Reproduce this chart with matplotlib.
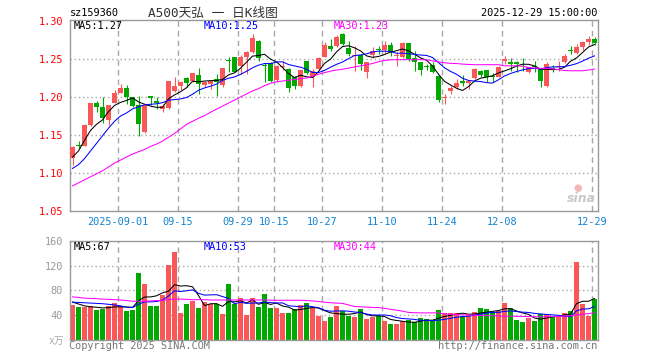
import numpy as np
import matplotlib
matplotlib.use('Agg')
import matplotlib.pyplot as plt

plt.rcParams['font.family'] = ['DejaVu Sans Mono', 'Noto Sans CJK SC']

# daily K line, 2025-08-20 .. 2025-12-29
opens = [1.1193, 1.1370, 1.1356, 1.1633, 1.1915, 1.1862, 1.1695, 1.1915, 1.2051, 1.2113,
         1.1994, 1.1897, 1.1540, 1.2016, 1.1950, 1.1840, 1.1853, 1.2073, 1.2148, 1.2245,
         1.2205, 1.2289, 1.2161, 1.2170, 1.2236, 1.2161, 1.2478, 1.2522, 1.2412, 1.2522,
         1.2588, 1.2733, 1.2416, 1.2443, 1.2223, 1.2395, 1.2368, 1.2267, 1.2148, 1.2469,
         1.2267, 1.2368, 1.2531, 1.2667, 1.2676, 1.2830, 1.2641, 1.2544, 1.2557, 1.2333,
         1.2557, 1.2623, 1.2623, 1.2689, 1.2540, 1.2522, 1.2707, 1.2513, 1.2456, 1.2401,
         1.2421, 1.2280, 1.1990, 1.2082, 1.2135, 1.2214, 1.2179, 1.2249, 1.2337, 1.2355,
         1.2271, 1.2267, 1.2469, 1.2456, 1.2456, 1.2395, 1.2324, 1.2401, 1.2368, 1.2148,
         1.2372, 1.2395, 1.2456, 1.2612, 1.2575, 1.2654, 1.2720, 1.2764]
highs = [1.1350, 1.1422, 1.1640, 1.1915, 1.1941, 1.1994, 1.1900, 1.2095, 1.2170, 1.2161,
         1.2003, 1.2016, 1.1900, 1.2016, 1.2000, 1.1906, 1.2205, 1.2267, 1.2214, 1.2258,
         1.2311, 1.2381, 1.2214, 1.2223, 1.2302, 1.2377, 1.2522, 1.2531, 1.2557, 1.2601,
         1.2830, 1.2751, 1.2443, 1.2456, 1.2425, 1.2478, 1.2381, 1.2280, 1.2355, 1.2478,
         1.2368, 1.2531, 1.2720, 1.2764, 1.2820, 1.2839, 1.2742, 1.2676, 1.2566, 1.2456,
         1.2663, 1.2676, 1.2742, 1.2720, 1.2597, 1.2720, 1.2707, 1.2610, 1.2456, 1.2434,
         1.2456, 1.2280, 1.2038, 1.2148, 1.2236, 1.2289, 1.2214, 1.2381, 1.2355, 1.2355,
         1.2311, 1.2412, 1.2544, 1.2513, 1.2478, 1.2513, 1.2399, 1.2478, 1.2368, 1.2456,
         1.2425, 1.2478, 1.2566, 1.2676, 1.2698, 1.2742, 1.2808, 1.2795]
lows = [1.1105, 1.1325, 1.1350, 1.1620, 1.1796, 1.1664, 1.1629, 1.1915, 1.2051, 1.1906,
        1.1862, 1.1488, 1.1530, 1.1900, 1.1840, 1.1809, 1.1840, 1.2060, 1.2090, 1.2135,
        1.2192, 1.2038, 1.2128, 1.2104, 1.2016, 1.2128, 1.2324, 1.2324, 1.2302, 1.2302,
        1.2575, 1.2478, 1.2192, 1.2192, 1.2192, 1.2355, 1.2060, 1.2104, 1.2135, 1.2302,
        1.2135, 1.2355, 1.2522, 1.2610, 1.2663, 1.2689, 1.2544, 1.2346, 1.2355, 1.2249,
        1.2513, 1.2566, 1.2575, 1.2544, 1.2412, 1.2513, 1.2478, 1.2346, 1.2293, 1.2359,
        1.2311, 1.1928, 1.1906, 1.2038, 1.2104, 1.2149, 1.2104, 1.2236, 1.2258, 1.2192,
        1.2192, 1.2258, 1.2434, 1.2346, 1.2324, 1.2337, 1.2311, 1.2324, 1.2126, 1.2135,
        1.2324, 1.2346, 1.2443, 1.2566, 1.2566, 1.2623, 1.2689, 1.2689]
closes = [1.1347, 1.1360, 1.1638, 1.1915, 1.1862, 1.1721, 1.1897, 1.2051, 1.2113, 1.1994,
          1.1880, 1.1642, 1.1897, 1.1985, 1.1915, 1.1884, 1.2205, 1.2148, 1.2192, 1.2179,
          1.2311, 1.2170, 1.2200, 1.2214, 1.2192, 1.2377, 1.2473, 1.2333, 1.2522, 1.2588,
          1.2773, 1.2513, 1.2412, 1.2205, 1.2412, 1.2399, 1.2117, 1.2148, 1.2355, 1.2311,
          1.2346, 1.2513, 1.2689, 1.2632, 1.2786, 1.2698, 1.2566, 1.2553, 1.2434, 1.2456,
          1.2601, 1.2619, 1.2685, 1.2588, 1.2553, 1.2711, 1.2500, 1.2456, 1.2355, 1.2399,
          1.2324, 1.1959, 1.1994, 1.2117, 1.2179, 1.2179, 1.2214, 1.2368, 1.2293, 1.2258,
          1.2267, 1.2399, 1.2500, 1.2434, 1.2434, 1.2390, 1.2390, 1.2395, 1.2214, 1.2434,
          1.2368, 1.2399, 1.2544, 1.2606, 1.2654, 1.2720, 1.2764, 1.2707]

ma5 = [1.1210, 1.1290, 1.1430, 1.1560, 1.1640, 1.1699, 1.1807, 1.1889, 1.1929, 1.1955,
       1.1987, 1.1936, 1.1905, 1.1880, 1.1864, 1.1865, 1.1977, 1.2027, 1.2069, 1.2122,
       1.2207, 1.2200, 1.2210, 1.2215, 1.2217, 1.2231, 1.2291, 1.2318, 1.2379, 1.2459,
       1.2538, 1.2546, 1.2562, 1.2498, 1.2463, 1.2388, 1.2309, 1.2256, 1.2286, 1.2266,
       1.2255, 1.2335, 1.2443, 1.2498, 1.2593, 1.2664, 1.2674, 1.2647, 1.2607, 1.2541,
       1.2522, 1.2533, 1.2559, 1.2590, 1.2609, 1.2631, 1.2607, 1.2562, 1.2515, 1.2484,
       1.2407, 1.2299, 1.2206, 1.2159, 1.2115, 1.2086, 1.2137, 1.2211, 1.2247, 1.2262,
       1.2280, 1.2317, 1.2343, 1.2372, 1.2407, 1.2431, 1.2430, 1.2409, 1.2365, 1.2365,
       1.2360, 1.2362, 1.2392, 1.2470, 1.2514, 1.2585, 1.2658, 1.2690]
ma10 = [1.1060, 1.1110, 1.1190, 1.1290, 1.1390, 1.1490, 1.1590, 1.1680, 1.1750, 1.1790,
        1.1843, 1.1871, 1.1897, 1.1904, 1.1910, 1.1926, 1.1957, 1.1966, 1.1974, 1.1993,
        1.2036, 1.2089, 1.2119, 1.2142, 1.2170, 1.2219, 1.2246, 1.2264, 1.2297, 1.2338,
        1.2384, 1.2419, 1.2440, 1.2439, 1.2461, 1.2463, 1.2427, 1.2409, 1.2392, 1.2365,
        1.2322, 1.2322, 1.2350, 1.2392, 1.2430, 1.2460, 1.2504, 1.2545, 1.2553, 1.2567,
        1.2593, 1.2603, 1.2603, 1.2599, 1.2575, 1.2577, 1.2570, 1.2560, 1.2552, 1.2547,
        1.2519, 1.2453, 1.2384, 1.2337, 1.2299, 1.2246, 1.2218, 1.2209, 1.2203, 1.2189,
        1.2183, 1.2227, 1.2277, 1.2309, 1.2335, 1.2356, 1.2373, 1.2376, 1.2368, 1.2386,
        1.2396, 1.2396, 1.2400, 1.2417, 1.2439, 1.2472, 1.2510, 1.2541]
ma30 = [1.0830, 1.0870, 1.0910, 1.0950, 1.0990, 1.1030, 1.1080, 1.1130, 1.1170, 1.1210,
        1.1250, 1.1280, 1.1310, 1.1350, 1.1380, 1.1420, 1.1470, 1.1520, 1.1580, 1.1640,
        1.1680, 1.1720, 1.1755, 1.1800, 1.1840, 1.1880, 1.1920, 1.1960, 1.2000, 1.2040,
        1.2080, 1.2110, 1.2150, 1.2180, 1.2200, 1.2210, 1.2220, 1.2230, 1.2240, 1.2250,
        1.2270, 1.2300, 1.2320, 1.2340, 1.2355, 1.2365, 1.2380, 1.2395, 1.2410, 1.2425,
        1.2440, 1.2465, 1.2480, 1.2490, 1.2490, 1.2491, 1.2491, 1.2491, 1.2491, 1.2490,
        1.2475, 1.2462, 1.2450, 1.2443, 1.2440, 1.2433, 1.2428, 1.2425, 1.2425, 1.2425,
        1.2425, 1.2425, 1.2410, 1.2410, 1.2410, 1.2405, 1.2390, 1.2380, 1.2377, 1.2377,
        1.2370, 1.2360, 1.2348, 1.2345, 1.2345, 1.2345, 1.2355, 1.2368]

# volume, 万手
vols = [56.0, 52.8, 52.8, 54.4, 48.0, 50.7, 54.4, 59.7, 54.4, 46.4,
        48.0, 107.7, 90.1, 55.0, 55.0, 72.0, 121.6, 142.4, 43.7, 57.6,
        63.0, 51.7, 61.0, 58.7, 58.7, 41.6, 89.6, 58.7, 67.7, 40.0,
        67.7, 53.3, 73.6, 51.7, 51.7, 43.7, 43.7, 50.7, 56.0, 59.7,
        51.7, 38.9, 30.9, 37.3, 54.4, 46.4, 38.4, 36.8, 49.6, 33.6,
        36.8, 38.4, 30.9, 25.6, 25.6, 30.4, 32.0, 28.8, 34.7, 33.6,
        30.4, 48.0, 43.2, 43.2, 43.2, 38.4, 40.0, 44.8, 51.2, 49.6,
        44.8, 46.9, 59.2, 51.2, 32.0, 28.8, 35.2, 30.4, 41.6, 41.6,
        38.4, 38.4, 43.2, 46.4, 126.4, 57.6, 38.4, 65.6]
vma5 = [61.0, 58.0, 55.0, 53.5, 52.8, 51.7, 52.1, 53.4, 53.4, 53.1,
        52.6, 63.2, 69.3, 69.4, 71.2, 76.0, 78.7, 89.2, 86.9, 87.5,
        85.7, 71.7, 55.4, 58.4, 58.6, 54.3, 61.9, 61.5, 63.3, 59.5,
        64.7, 57.5, 60.5, 57.3, 59.6, 54.8, 52.9, 48.3, 49.2, 50.8,
        52.4, 51.4, 47.4, 43.7, 42.6, 41.6, 41.5, 42.7, 45.1, 41.0,
        39.0, 39.0, 37.9, 33.1, 31.5, 30.2, 28.9, 28.5, 30.3, 31.9,
        31.9, 35.1, 38.0, 39.7, 41.6, 43.2, 41.6, 41.9, 43.5, 44.8,
        46.1, 47.5, 50.3, 50.3, 46.8, 43.6, 41.3, 35.5, 33.6, 35.5,
        37.4, 38.1, 40.6, 41.6, 58.6, 62.4, 62.4, 66.9]
vma10 = [61.0, 60.5, 60.0, 59.5, 59.0, 58.5, 57.5, 56.5, 55.0, 53.0,
         52.2, 57.7, 61.4, 61.4, 62.1, 64.3, 71.0, 79.3, 78.2, 79.3,
         80.8, 75.2, 72.3, 72.7, 73.0, 70.0, 66.8, 58.4, 60.8, 59.1,
         59.5, 59.7, 61.0, 60.3, 59.6, 59.8, 55.2, 54.4, 53.2, 55.2,
         53.6, 52.1, 47.9, 46.4, 46.7, 47.0, 46.4, 45.1, 44.4, 41.8,
         40.3, 40.3, 40.3, 39.1, 36.2, 34.6, 34.0, 33.2, 31.7, 31.7,
         31.0, 32.0, 33.2, 35.0, 36.8, 37.6, 38.4, 40.0, 41.6, 43.2,
         44.6, 44.5, 46.1, 46.9, 45.8, 44.9, 44.4, 42.9, 42.0, 41.2,
         40.5, 39.7, 38.1, 37.6, 47.0, 49.9, 50.2, 53.8]
vma30 = [69.5, 68.5, 67.5, 67.0, 66.5, 66.0, 65.5, 65.0, 64.5, 63.5,
         62.5, 62.5, 62.5, 63.0, 63.5, 64.0, 65.0, 66.0, 66.0, 65.5,
         65.0, 65.0, 65.0, 64.5, 64.5, 64.5, 64.5, 64.5, 64.5, 64.5,
         64.5, 64.5, 64.5, 64.0, 64.0, 64.0, 64.0, 64.0, 64.0, 63.5,
         63.0, 62.0, 61.0, 60.0, 59.5, 59.0, 56.5, 54.0, 53.5, 53.0,
         52.5, 52.3, 51.0, 49.5, 48.0, 46.5, 44.5, 44.0, 43.7, 43.7,
         43.7, 43.7, 42.0, 41.5, 41.0, 40.5, 40.3, 40.0, 39.5, 39.2,
         39.0, 38.7, 38.4, 38.4, 38.2, 38.0, 37.8, 37.4, 37.3, 37.5,
         37.8, 38.0, 38.4, 39.0, 40.5, 41.5, 42.5, 44.0]

tick_idx = [8, 18, 28, 34, 42, 52, 62, 72, 87]
tick_lbl = ['2025-09-01', '09-15', '09-29', '10-15', '10-27', '11-10', '11-24', '12-08', '12-29']
price_ticks = [1.05, 1.10, 1.15, 1.20, 1.25, 1.30]
vol_ticks = [40, 80, 120, 160]

RED = '#fa5858'
GRN = '#00a800'
GRID = '#a8a8a8'
W, H = 660, 360

o = np.array(opens); c = np.array(closes)
x = np.arange(len(c))
up = c >= o
col = np.where(up, RED, GRN)

fig = plt.figure(figsize=(6.6, 3.6), dpi=100)
fig.patch.set_facecolor('white')

def fx(px):
    return px / W

def fy(py):
    return 1 - py / H

ax = fig.add_axes([fx(70), fy(211), fx(528), 191 / H])
vax = fig.add_axes([fx(70), fy(340), fx(528), 99.3 / H])

grid_x = [i - 0.42 for i in tick_idx]
for a in (ax, vax):
    for g in grid_x:
        a.axvline(g, color=GRID, lw=1, ls=(0, (4, 3)), zorder=0)
    for s in a.spines.values():
        s.set_color('#999999')
        s.set_linewidth(1)
    a.set_xlim(-0.42, len(c) - 0.42)
    a.tick_params(length=0)

for yv in price_ticks[1:-1]:
    ax.axhline(yv, color=GRID, lw=1, ls=(0, (1, 2)), zorder=0)
for yv in vol_ticks[:-1]:
    vax.axhline(yv, color=GRID, lw=1, ls=(0, (1, 2)), zorder=0)

# candles
ax.vlines(x, lows, highs, colors=col, lw=0.8, zorder=2)
body = np.maximum(np.abs(c - o), 0.0008)
ax.bar(x, body, bottom=np.minimum(o, c), width=0.8, color=col, lw=0, zorder=3,
       antialiased=False)
ax.plot(x, ma5, color='black', lw=0.75, zorder=4)
ax.plot(x, ma10, color='#0000ff', lw=0.75, zorder=4)
ax.plot(x, ma30, color='#ff00ff', lw=0.75, zorder=4)
ax.set_ylim(1.05, 1.3013)
ax.set_yticks(price_ticks)
ax.set_yticklabels(['%.2f' % t for t in price_ticks], color='#ff0000', fontsize=7.4)
ax.set_xticks(grid_x)
ax.set_xticklabels(tick_lbl, color='#1284d2', fontsize=7.4)
ax.tick_params(axis='y', pad=5)
ax.tick_params(axis='x', pad=4)

# volume
vax.bar(x, vols, width=0.8, color=col, lw=0, zorder=2, antialiased=False)
vax.plot(x, vma5, color='black', lw=0.75, zorder=4)
vax.plot(x, vma10, color='#0000ff', lw=0.75, zorder=4)
vax.plot(x, vma30, color='#ff00ff', lw=0.75, zorder=4)
vax.set_ylim(0, 160)
vax.set_yticks(vol_ticks)
vax.set_yticklabels([str(t) for t in vol_ticks], color='#999999', fontsize=7.4)
vax.tick_params(axis='y', pad=5)
vax.set_xticks([])

# texts
fs = 7.4
fig.text(fx(70), fy(13), 'sz159360', fontsize=fs, color='black', va='center')
fig.text(fx(213), fy(13), 'A500天弘 一 日K线图', fontsize=9.2, color='#333333',
         ha='center', va='center')
fig.text(fx(597), fy(13), '2025-12-29 15:00:00', fontsize=fs, color='black',
         ha='right', va='center')
fig.text(fx(74), fy(26), 'MA5:%.2f' % 1.27, fontsize=fs, color='black', va='center')
fig.text(fx(204), fy(26), 'MA10:%.2f' % 1.25, fontsize=fs, color='#0000ff', va='center')
fig.text(fx(334), fy(26), 'MA30:%.2f' % 1.23, fontsize=fs, color='#ff00ff', va='center')
fig.text(fx(74), fy(247), 'MA5:67', fontsize=fs, color='black', va='center')
fig.text(fx(204), fy(247), 'MA10:53', fontsize=fs, color='#0000ff', va='center')
fig.text(fx(334), fy(247), 'MA30:44', fontsize=fs, color='#ff00ff', va='center')
fig.text(fx(64), fy(341), 'x万', fontsize=7, color='#aaaaaa', ha='right', va='center')
fig.text(fx(69), fy(346), 'Copyright 2025 SINA.COM', fontsize=fs, color='#777777', va='center')
fig.text(fx(597), fy(346), 'http://finance.sina.com.cn', fontsize=fs, color='#777777',
         ha='right', va='center')

# sina watermark
fig.text(fx(581), fy(198), 'sina', fontsize=9, color='#c8c8c8', fontweight='bold',
         style='italic', ha='center', va='center', family='DejaVu Sans')
fig.text(fx(578), fy(188), '●', fontsize=7, color='#f4b8b8', ha='center', va='center',
         family='DejaVu Sans')

fig.savefig('out.png', dpi=100)
